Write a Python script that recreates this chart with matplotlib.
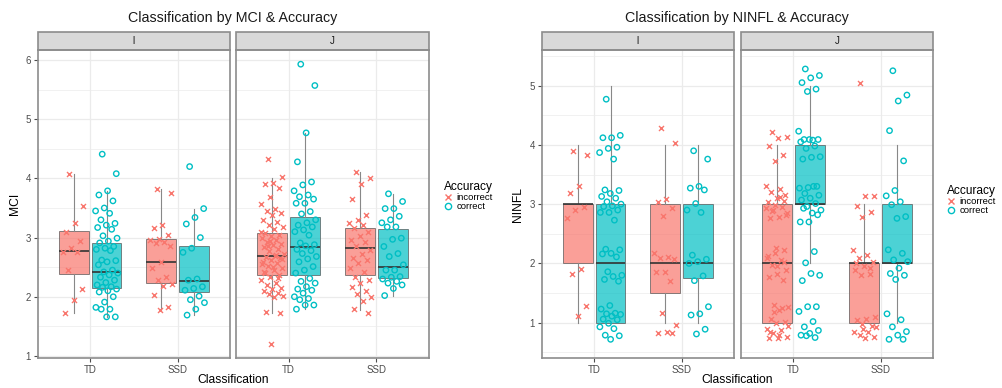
# boxplots of MCI and NINFL by classification, split by accuracy, two facets each

import numpy as np
import matplotlib.pyplot as plt
from matplotlib.patches import Rectangle
from matplotlib.lines import Line2D

plt.rcParams['font.family'] = ['Liberation Sans', 'DejaVu Sans']

classes = ['TD', 'SSD']
facets = ['l', 'J']
accuracy = ['incorrect', 'correct']
colors = ['#F8766D', '#00BFC4']

# ---- MCI, facet l ----
mci_l_td_inc = [4.07, 3.54, 3.24, 3.09, 2.95, 2.82, 2.75, 2.75, 2.46, 2.13, 1.95, 1.73]
mci_l_td_cor = [4.41, 4.08, 3.79, 3.72, 3.62, 3.50, 3.45, 3.41, 3.30, 3.24, 3.21, 3.17, 3.14,
                3.03, 2.99, 2.94, 2.91, 2.85, 2.82, 2.80, 2.78, 2.62, 2.61, 2.59, 2.54, 2.45,
                2.42, 2.40, 2.37, 2.33, 2.28, 2.24, 2.20, 2.17, 2.16, 2.13, 2.10, 2.08, 2.00,
                1.91, 1.82, 1.79, 1.79, 1.66, 1.66]
mci_l_ssd_inc = [3.82, 3.75, 3.21, 3.16, 3.04, 2.98, 2.96, 2.93, 2.90, 2.85, 2.58, 2.48, 2.34,
                 2.28, 2.22, 2.19, 2.03, 1.83, 1.78]
mci_l_ssd_cor = [4.20, 3.49, 3.34, 3.23, 3.00, 2.82, 2.75, 2.30, 2.28, 2.17, 2.14, 2.11, 2.01,
                 1.95, 1.90, 1.79, 1.69]
# ---- MCI, facet J ----
mci_j_td_inc = [4.32, 4.03, 3.93, 3.90, 3.83, 3.69, 3.57, 3.49, 3.45, 3.42, 3.38, 3.30, 3.27,
                3.21, 3.18, 3.14, 3.07, 3.04, 3.02, 2.99, 2.96, 2.93, 2.89, 2.88, 2.84, 2.80,
                2.78, 2.73, 2.69, 2.67, 2.65, 2.62, 2.59, 2.57, 2.52, 2.48, 2.45, 2.40, 2.37,
                2.34, 2.28, 2.24, 2.20, 2.14, 2.13, 2.09, 2.07, 2.05, 2.01, 1.99, 1.75, 1.72,
                1.20, 2.55, 2.71, 2.86, 2.63, 2.50, 2.42, 2.31, 2.95, 3.10]
mci_j_td_cor = [5.93, 5.57, 4.77, 4.28, 3.94, 3.89, 3.79, 3.72, 3.69, 3.65, 3.58, 3.58, 3.44,
                3.40, 3.30, 3.25, 3.21, 3.18, 3.13, 3.10, 3.04, 2.91, 2.88, 2.86, 2.80, 2.78,
                2.73, 2.68, 2.64, 2.59, 2.51, 2.45, 2.40, 2.31, 2.26, 2.23, 2.17, 2.13, 2.11,
                2.06, 2.00, 1.97, 1.95, 1.86, 1.86, 1.79]
mci_j_ssd_inc = [4.10, 4.01, 3.91, 3.66, 3.38, 3.30, 3.25, 3.21, 3.16, 3.10, 3.02, 2.96, 2.93,
                 2.85, 2.79, 2.73, 2.65, 2.62, 2.57, 2.48, 2.42, 2.34, 2.28, 2.23, 2.17, 2.10,
                 2.05, 1.99, 1.92, 1.79, 1.73]
mci_j_ssd_cor = [3.74, 3.61, 3.49, 3.49, 3.36, 3.30, 3.25, 3.18, 3.18, 2.99, 2.97, 2.85, 2.73,
                 2.68, 2.54, 2.45, 2.45, 2.34, 2.33, 2.30, 2.26, 2.23, 2.20, 2.14, 2.02]

# box stats: [lower whisker, q1, median, q3, upper whisker]
mci_box_l_td_inc = [1.73, 2.38, 2.77, 3.11, 4.07]
mci_box_l_td_cor = [1.66, 2.14, 2.42, 2.90, 3.79]
mci_box_l_ssd_inc = [1.78, 2.24, 2.58, 2.97, 3.82]
mci_box_l_ssd_cor = [1.69, 2.08, 2.27, 2.86, 3.48]
mci_box_j_td_inc = [1.73, 2.37, 2.69, 3.07, 4.01]
mci_box_j_td_cor = [1.79, 2.37, 2.84, 3.35, 4.77]
mci_box_j_ssd_inc = [1.78, 2.37, 2.82, 3.17, 4.10]
mci_box_j_ssd_cor = [2.02, 2.31, 2.51, 3.15, 3.74]

# ---- NINFL, facet l ----
ninfl_l_td_inc = [3.90, 3.83, 3.30, 3.18, 2.96, 2.90, 2.77, 1.90, 1.83, 1.29, 1.11]
ninfl_l_td_cor = [4.77, 4.16, 4.12, 4.12, 3.96, 3.94, 3.87, 3.76, 3.24, 3.23, 3.18, 3.13, 3.10,
                  3.04, 3.00, 2.97, 2.96, 2.90, 2.86, 2.86, 2.73, 2.24, 2.23, 2.17, 2.16, 2.11,
                  1.86, 1.80, 1.78, 1.73, 1.70, 1.29, 1.23, 1.16, 1.15, 1.14, 1.11, 1.06, 1.05,
                  0.99, 0.93, 0.90, 0.79, 0.78, 0.72]
ninfl_l_ssd_inc = [4.28, 4.03, 3.08, 3.03, 2.94, 2.80, 2.17, 2.11, 2.09, 2.07, 1.86, 1.85, 1.71,
                   1.16, 0.96, 0.85, 0.83, 0.83]
ninfl_l_ssd_cor = [3.90, 3.76, 3.30, 3.27, 3.24, 3.01, 2.90, 2.86, 2.14, 2.07, 2.03, 2.00, 1.79,
                   1.71, 1.27, 1.15, 1.13, 0.89, 0.81]
# ---- NINFL, facet J ----
ninfl_j_td_inc = [4.22, 4.14, 4.11, 3.98, 3.83, 3.73, 3.30, 3.25, 3.21, 3.15, 3.10, 3.04, 2.96,
                  2.90, 2.85, 2.79, 2.76, 2.23, 2.17, 2.09, 2.06, 1.97, 1.89, 1.83, 1.77, 1.72,
                  1.30, 1.27, 1.21, 1.07, 1.02, 0.99, 0.90, 0.88, 0.82, 0.76, 0.74, 0.74, 3.05,
                  2.98, 2.93, 3.12, 2.88, 2.82, 1.95, 2.12, 1.25, 1.18, 0.95, 0.80, 0.85, 2.02,
                  2.26]
ninfl_j_td_cor = [5.28, 5.17, 5.13, 5.05, 4.94, 4.90, 4.23, 4.08, 4.09, 4.09, 4.09, 4.05, 3.98,
                  3.94, 3.80, 3.79, 3.76, 3.30, 3.28, 3.27, 3.30, 3.18, 3.15, 3.10, 3.07, 3.01,
                  2.96, 2.90, 2.85, 2.93, 2.82, 2.70, 2.70, 2.20, 2.01, 1.80, 1.83, 1.71, 1.27,
                  1.27, 1.19, 1.02, 0.93, 0.87, 0.82, 0.79, 0.75, 0.78]
ninfl_j_ssd_inc = [5.04, 3.13, 3.13, 2.97, 2.87, 2.79, 2.23, 2.14, 2.09, 2.03, 1.95, 1.89, 1.83,
                   1.80, 1.10, 1.07, 1.05, 0.94, 0.89, 0.85, 0.84, 0.79, 0.76, 0.74, 2.00, 1.93,
                   0.98, 0.92]
ninfl_j_ssd_cor = [5.25, 4.84, 4.74, 4.24, 3.73, 3.23, 3.14, 3.04, 2.99, 2.79, 2.76, 2.23, 2.17,
                   2.06, 2.03, 1.92, 1.83, 1.80, 1.73, 1.15, 1.05, 0.93, 0.85, 0.79, 0.72, 0.72]

ninfl_box_l_td_inc = [1.0, 2.0, 3.0, 3.0, 4.0]
ninfl_box_l_td_cor = [1.0, 1.0, 2.0, 3.0, 5.0]
ninfl_box_l_ssd_inc = [1.0, 1.5, 2.0, 3.0, 4.0]
ninfl_box_l_ssd_cor = [1.0, 1.75, 2.0, 3.0, 4.0]
ninfl_box_j_td_inc = [1.0, 1.0, 2.0, 3.0, 4.0]
ninfl_box_j_td_cor = [2.0, 3.0, 3.0, 4.0, 5.0]
ninfl_box_j_ssd_inc = [1.0, 1.0, 2.0, 2.0, 3.0]
ninfl_box_j_ssd_cor = [1.0, 2.0, 2.0, 3.0, 4.0]

W, H = 1003, 388
dodge = [-0.1875, 0.1875]
box_w = 0.34
grid_c = '#EBEBEB'
border_c = '#8C8C8C'
text_c = '#4D4D4D'


def jitter(n, width=0.26):
    # deterministic spread (golden ratio sequence) instead of random jitter
    return ((np.arange(n) * 0.618034 + 0.31) % 1 - 0.5) * width


def fig_axes(fig, x0, x1, y0=50, y1=357.7):
    return fig.add_axes([x0 / W, 1 - y1 / H, (x1 - x0) / W, (y1 - y0) / H])


def draw_facet(ax, label, groups, ylim, yticks, show_y):
    ax.set_xlim(0.4, 2.6)
    ax.set_ylim(*ylim)
    ax.set_axisbelow(True)
    for y in yticks:
        ax.axhline(y, color=grid_c, lw=0.9, zorder=0)
        ax.axhline(y + 0.5, color=grid_c, lw=0.5, zorder=0)
    ax.axhline(yticks[0] - 0.5, color=grid_c, lw=0.5, zorder=0)
    for x in [1, 2]:
        ax.axvline(x, color=grid_c, lw=0.9, zorder=0)
    for ci, ai, vals, st in groups:
        pos = ci + 1 + dodge[ai]
        stats = dict(whislo=st[0], q1=st[1], med=st[2], q3=st[3], whishi=st[4], fliers=[])
        ax.bxp([stats], positions=[pos], widths=box_w, patch_artist=True, showcaps=False,
               showfliers=False, manage_ticks=False,
               boxprops=dict(facecolor=colors[ai], alpha=0.7, edgecolor='#555555', lw=0.7),
               medianprops=dict(color='#333333', lw=1.2),
               whiskerprops=dict(color='#888888', lw=0.8))
        xs = pos + jitter(len(vals))
        if ai == 0:
            ax.scatter(xs, vals, marker='x', s=13, color=colors[ai], lw=1.0, zorder=3)
        else:
            ax.scatter(xs, vals, marker='o', s=15, facecolors='none',
                       edgecolors=colors[ai], lw=1.0, zorder=3)
    ax.set_xticks([1, 2])
    ax.set_xticklabels(classes)
    ax.set_yticks(yticks)
    ax.tick_params(axis='both', length=3, width=0.8, color=text_c, labelsize=7,
                   labelcolor=text_c, pad=2)
    if not show_y:
        ax.tick_params(axis='y', left=False, labelleft=False)
    for s in ax.spines.values():
        s.set_color(border_c)
        s.set_linewidth(1.2)
    # facet strip
    strip = Rectangle((0, 1.0), 1, 18.3 / (357.7 - 50), transform=ax.transAxes,
                      facecolor='#D9D9D9', edgecolor=border_c, lw=1.2, clip_on=False)
    ax.add_patch(strip)
    ax.text(0.5, 1.0 + 9.2 / (357.7 - 50), label, transform=ax.transAxes, ha='center',
            va='center', fontsize=7, color='#1A1A1A')


fig = plt.figure(figsize=(W / 100, H / 100), dpi=100)
fig.patch.set_facecolor('white')

mci_groups_l = [(0, 0, mci_l_td_inc, mci_box_l_td_inc), (0, 1, mci_l_td_cor, mci_box_l_td_cor),
                (1, 0, mci_l_ssd_inc, mci_box_l_ssd_inc), (1, 1, mci_l_ssd_cor, mci_box_l_ssd_cor)]
mci_groups_j = [(0, 0, mci_j_td_inc, mci_box_j_td_inc), (0, 1, mci_j_td_cor, mci_box_j_td_cor),
                (1, 0, mci_j_ssd_inc, mci_box_j_ssd_inc), (1, 1, mci_j_ssd_cor, mci_box_j_ssd_cor)]
ninfl_groups_l = [(0, 0, ninfl_l_td_inc, ninfl_box_l_td_inc), (0, 1, ninfl_l_td_cor, ninfl_box_l_td_cor),
                  (1, 0, ninfl_l_ssd_inc, ninfl_box_l_ssd_inc), (1, 1, ninfl_l_ssd_cor, ninfl_box_l_ssd_cor)]
ninfl_groups_j = [(0, 0, ninfl_j_td_inc, ninfl_box_j_td_inc), (0, 1, ninfl_j_td_cor, ninfl_box_j_td_cor),
                  (1, 0, ninfl_j_ssd_inc, ninfl_box_j_ssd_inc), (1, 1, ninfl_j_ssd_cor, ninfl_box_j_ssd_cor)]

mci_ticks = [1, 2, 3, 4, 5, 6]
ninfl_ticks = [1, 2, 3, 4, 5]

ax1 = fig_axes(fig, 37.7, 230)
ax2 = fig_axes(fig, 236, 429)
draw_facet(ax1, facets[0], mci_groups_l, (0.97, 6.17), mci_ticks, True)
draw_facet(ax2, facets[1], mci_groups_j, (0.97, 6.17), mci_ticks, False)

ax3 = fig_axes(fig, 541.7, 734)
ax4 = fig_axes(fig, 740.7, 933.3)
draw_facet(ax3, facets[0], ninfl_groups_l, (0.41, 5.6), ninfl_ticks, True)
draw_facet(ax4, facets[1], ninfl_groups_j, (0.41, 5.6), ninfl_ticks, False)

# titles and axis labels
fig.text(233 / W, 1 - 18 / H, 'Classification by MCI & Accuracy', ha='center', va='center',
         fontsize=10.3, color='#1A1A1A')
fig.text(737 / W, 1 - 18 / H, 'Classification by NINFL & Accuracy', ha='center', va='center',
         fontsize=10.3, color='#1A1A1A')
fig.text(233 / W, 1 - 380 / H, 'Classification', ha='center', va='center', fontsize=8.7)
fig.text(737 / W, 1 - 380 / H, 'Classification', ha='center', va='center', fontsize=8.7)
fig.text(15 / W, 1 - 204 / H, 'MCI', ha='center', va='center', rotation=90, fontsize=8.7)
fig.text(518 / W, 1 - 204 / H, 'NINFL', ha='center', va='center', rotation=90, fontsize=8.7)

handles = [Line2D([], [], marker='x', ls='', color=colors[0], markersize=4.5, mew=1.0),
           Line2D([], [], marker='o', ls='', markerfacecolor='none', markeredgecolor=colors[1],
                  markersize=4.5, mew=1.0)]
for lx, ly in [(444, 181), (947, 185)]:
    leg = fig.legend(handles, accuracy, title='Accuracy', loc='upper left',
                     bbox_to_anchor=(lx / W, 1 - ly / H), frameon=False, borderpad=0,
                     borderaxespad=0, fontsize=6.8, title_fontsize=8.6, handlelength=0.8,
                     handletextpad=0.5, labelspacing=0.0)
    leg._legend_box.align = 'left'

fig.savefig('out.png', dpi=100)
